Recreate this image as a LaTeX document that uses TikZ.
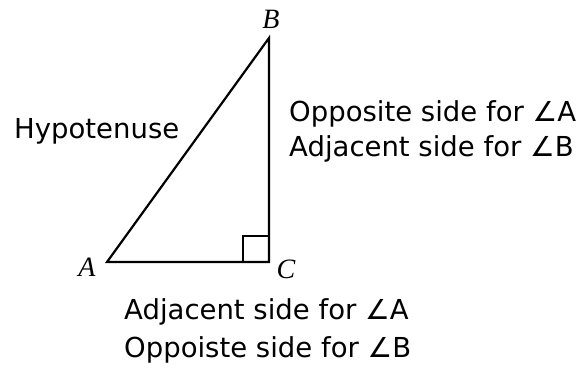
\documentclass[tikz,border=0pt]{standalone}
\usepackage{fontspec}
\setmainfont{DejaVu Sans}
\newfontfamily\lettfont{Liberation Serif}
\begin{document}
\begin{tikzpicture}[x=1pt,y=-1pt,
  side/.style={line width=2.2pt, line join=miter},
  vlabel/.style={font=\lettfont\itshape\fontsize{28}{28}\selectfont, inner sep=0pt},
  txt/.style={font=\fontsize{27.5}{27.5}\selectfont, inner sep=0pt, anchor=base west}]
\useasboundingbox (0,0) rectangle (584,370);
\coordinate (A) at (107,262);
\coordinate (B) at (269,38);
\coordinate (C) at (269,262);
\coordinate (s1) at (243,262);
\coordinate (s2) at (243,236);
\coordinate (s3) at (269,236);
\draw[side] (A) -- (B) -- (C) -- cycle;
\draw[side] (s1) -- (s2) -- (s3);
\node[vlabel] (lB) at (271,19) {B};
\node[vlabel] (lA) at (87,267) {A};
\node[vlabel] (lC) at (286,269) {C};
\node[txt] (hyp) at (14,138) {Hypotenuse};
\node[txt] (opp1) at (289,121) {Opposite side for ∠A};
\node[txt] (adj1) at (289,156) {Adjacent side for ∠B};
\node[txt] (adj2) at (124,319) {Adjacent side for ∠A};
\node[txt] (opp2) at (124,357) {Oppoiste side for ∠B};
\end{tikzpicture}
\end{document}
